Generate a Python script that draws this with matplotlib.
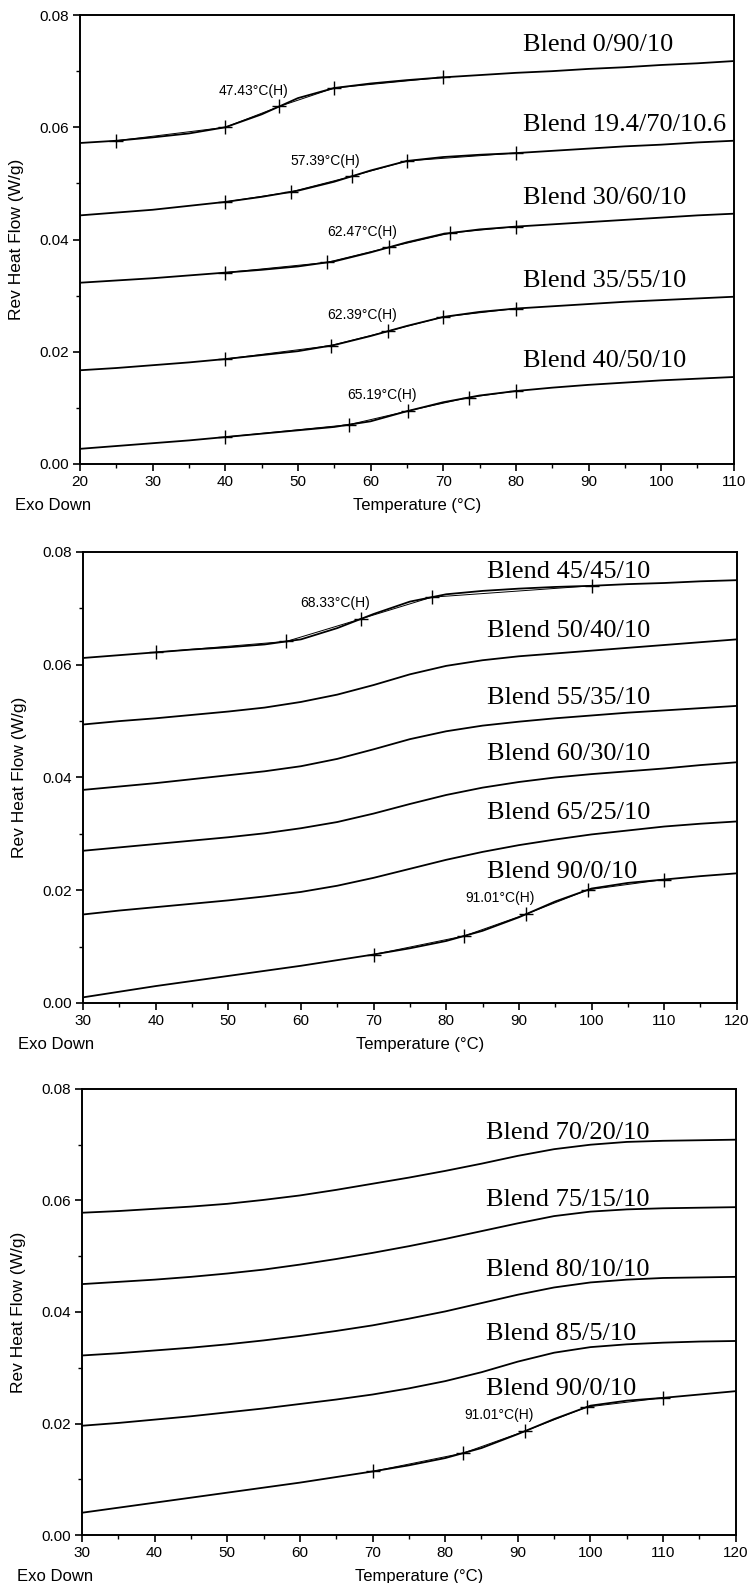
import numpy as np
import matplotlib
matplotlib.use("Agg")
import matplotlib.pyplot as plt
from matplotlib import font_manager
from matplotlib.ticker import MultipleLocator

# ---- data ----
temp_a = [20, 25, 30, 35, 40, 45, 50, 55, 60, 65, 70, 75, 80, 85, 90, 95, 100, 105, 110]
temp_b = [30, 35, 40, 45, 50, 55, 60, 65, 70, 75, 80, 85, 90, 95, 100, 105, 110, 115, 120]

# panel 1
p1_names = ["Blend 0/90/10", "Blend 19.4/70/10.6", "Blend 30/60/10", "Blend 35/55/10", "Blend 40/50/10"]
p1_0_90 = [.0572, .0576, .0582, .0589, .0600, .0623, .0652, .0670, .0678, .0684, .0689, .0693, .0697, .0700, .0704, .0707, .0711, .0714, .0718]
p1_19_70 = [.0443, .0448, .0453, .0460, .0467, .0476, .0487, .0503, .0523, .0540, .0547, .0551, .0554, .0558, .0562, .0566, .0569, .0573, .0576]
p1_30_60 = [.0323, .0327, .0331, .0336, .0341, .0346, .0352, .0361, .0377, .0395, .0410, .0418, .0423, .0427, .0431, .0435, .0439, .0443, .0446]
p1_35_55 = [.0167, .0171, .0176, .0181, .0187, .0194, .0201, .0212, .0228, .0246, .0262, .0271, .0277, .0281, .0285, .0289, .0292, .0295, .0298]
p1_40_50 = [.0027, .0032, .0037, .0042, .0048, .0054, .0060, .0066, .0076, .0094, .0110, .0122, .0130, .0136, .0141, .0145, .0149, .0152, .0155]
p1_marks = [[25, 40, 47.43, 55, 70], [40, 49, 57.39, 65, 80], [40, 54, 62.47, 71, 80],
            [40, 54.5, 62.39, 70, 80], [40, 57, 65.19, 73.5, 80]]

# panel 2
p2_names = ["Blend 45/45/10", "Blend 50/40/10", "Blend 55/35/10", "Blend 60/30/10", "Blend 65/25/10", "Blend 90/0/10"]
p2_45_45 = [.0612, .0617, .0622, .0627, .0631, .0636, .0645, .0665, .0690, .0712, .0725, .0731, .0735, .0738, .0740, .0743, .0745, .0748, .0750]
p2_50_40 = [.0494, .0500, .0505, .0511, .0517, .0524, .0534, .0547, .0564, .0583, .0598, .0608, .0615, .0620, .0625, .0630, .0635, .0640, .0645]
p2_55_35 = [.0378, .0384, .0390, .0397, .0404, .0411, .0420, .0433, .0450, .0468, .0482, .0492, .0499, .0505, .0510, .0515, .0519, .0523, .0527]
p2_60_30 = [.0270, .0276, .0282, .0288, .0294, .0301, .0310, .0321, .0336, .0353, .0369, .0382, .0392, .0400, .0406, .0411, .0416, .0422, .0427]
p2_65_25 = [.0157, .0164, .0170, .0176, .0182, .0189, .0197, .0208, .0222, .0238, .0254, .0268, .0280, .0290, .0299, .0306, .0313, .0318, .0322]
p2_90_0 = [.0010, .0020, .0030, .0039, .0048, .0057, .0066, .0076, .0086, .0097, .0110, .0128, .0152, .0180, .0203, .0213, .0219, .0225, .0230]
p2_marks = [[40, 58, 68.33, 78, 100], None, None, None, None, [70, 82.5, 91.01, 99.5, 110]]

# panel 3
p3_names = ["Blend 70/20/10", "Blend 75/15/10", "Blend 80/10/10", "Blend 85/5/10", "Blend 90/0/10"]
p3_70_20 = [.0578, .0581, .0585, .0589, .0594, .0601, .0609, .0619, .0630, .0641, .0653, .0666, .0680, .0692, .0700, .0705, .0707, .0708, .0709]
p3_75_15 = [.0450, .0454, .0458, .0463, .0469, .0476, .0485, .0495, .0506, .0518, .0531, .0545, .0559, .0572, .0580, .0584, .0586, .0587, .0588]
p3_80_10 = [.0322, .0326, .0331, .0336, .0342, .0349, .0357, .0366, .0376, .0388, .0401, .0416, .0431, .0444, .0453, .0458, .0461, .0462, .0463]
p3_85_5 = [.0196, .0201, .0207, .0213, .0220, .0227, .0235, .0243, .0252, .0263, .0276, .0292, .0311, .0327, .0337, .0342, .0345, .0347, .0348]
p3_90_0 = [.0040, .0049, .0058, .0067, .0076, .0085, .0094, .0104, .0114, .0125, .0138, .0156, .0181, .0208, .0232, .0241, .0246, .0252, .0258]
p3_marks = [None, None, None, None, [70, 82.5, 91.01, 99.5, 110]]

names = {f.name for f in font_manager.fontManager.ttflist}
sans = "Liberation Sans Narrow" if "Liberation Sans Narrow" in names else "Liberation Sans"
serif = "Liberation Serif"
plt.rcParams["font.family"] = [sans, "DejaVu Sans"]


def panel(ax, temps, curves, labels, marks, label_x, gap):
    for y, name, mk in zip(curves, labels, marks):
        y = np.array(y)
        ax.plot(temps, y, color="black", lw=1.3)
        if mk is not None:
            my = np.interp(mk, temps, y)
            # analysis tangents and crosses
            ax.plot(mk, my, color="black", lw=0.7)
            ax.plot(mk, my, ls="none", marker="+", ms=10, mew=1.0, color="black")
            mid_t, mid_y = mk[2], my[2]
            ax.text(mid_t - 3.6, mid_y + 0.0028, "%.2f°C(H)" % mid_t, fontsize=10,
                    ha="center", va="center")
        if mk is not None and name == "Blend 90/0/10":
            # this label sits above the analysed transition, not at the curve end
            ly = np.interp(mk[2], temps, y) + 0.0064
        else:
            ly = y[-1] + gap
        ax.text(label_x, ly, name, family=serif, fontsize=19, ha="left", va="baseline")
    ax.set_xlim(temps[0], temps[-1])
    ax.set_ylim(0, 0.08)
    ax.xaxis.set_major_locator(MultipleLocator(10))
    ax.xaxis.set_minor_locator(MultipleLocator(5))
    ax.yaxis.set_major_locator(MultipleLocator(0.02))
    ax.yaxis.set_minor_locator(MultipleLocator(0.01))
    ax.yaxis.set_major_formatter(plt.FormatStrFormatter("%.2f"))
    ax.tick_params(which="major", direction="out", length=5, width=1.2, labelsize=11, pad=3)
    ax.tick_params(which="minor", direction="out", length=3, width=1.0)
    for s in ax.spines.values():
        s.set_linewidth(1.4)
    ax.set_ylabel("Rev Heat Flow (W/g)", fontsize=12.5)
    ax.yaxis.set_label_coords(-0.086, 0.5)
    ax.text(-0.1, -0.092, "Exo Down", transform=ax.transAxes, fontsize=12, ha="left", va="center")
    ax.text(0.515, -0.092, "Temperature (°C)", transform=ax.transAxes, fontsize=12,
            ha="center", va="center")


fig = plt.figure(figsize=(7.48, 15.83), dpi=100)
ax1 = fig.add_axes([0.107, 0.7069, 0.874, 0.2836])
ax2 = fig.add_axes([0.111, 0.3664, 0.874, 0.2849])
ax3 = fig.add_axes([0.1096, 0.0303, 0.874, 0.2818])

panel(ax1, temp_a, [p1_0_90, p1_19_70, p1_30_60, p1_35_55, p1_40_50], p1_names, p1_marks, 81, 0.0018)
panel(ax2, temp_b, [p2_45_45, p2_50_40, p2_55_35, p2_60_30, p2_65_25, p2_90_0], p2_names, p2_marks, 85.6, 0.0004)
panel(ax3, temp_b, [p3_70_20, p3_75_15, p3_80_10, p3_85_5, p3_90_0], p3_names, p3_marks, 85.6, 0.0002)

fig.savefig("out.png", dpi=100)
